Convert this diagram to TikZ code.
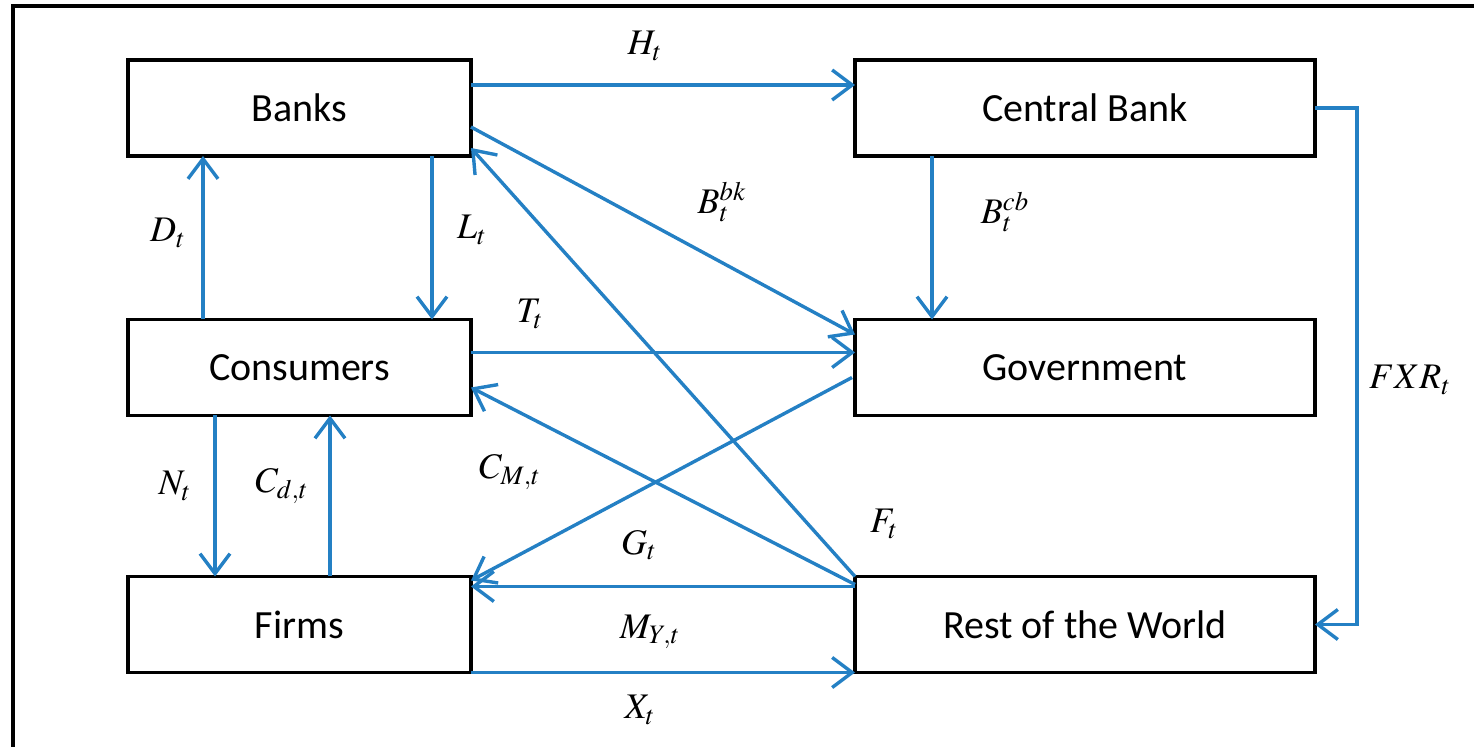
\documentclass[tikz,border=0pt]{standalone}
\usepackage{mathptmx}
\usepackage[no-math]{fontspec}
\setmainfont{Carlito}
\usetikzlibrary{arrows.meta,calc}
\definecolor{flowblue}{RGB}{36,128,196}

\begin{document}
\begin{tikzpicture}[x=0.5pt,y=-0.5pt,
  sector/.style={draw,line width=1.6pt,outer sep=0pt,inner sep=0pt,minimum width=171.5pt,minimum height=48pt,font=\fontsize{20}{24}\selectfont},
  widesector/.style={sector,minimum width=230pt},
  flow/.style={flowblue,line width=1.7pt,-{Straight Barb[length=10pt,width=15pt,line width=1.7pt]}},
  lab/.style={inner sep=0pt,font=\fontsize{18}{21}\selectfont}]
\useasboundingbox (0,0) rectangle (1474,747);

% frame
\draw[line width=1.6pt] (13,747) -- (13,6) -- (1474,6);

% ============ sectors ============
\node[sector] (banks) at (299.5,108) {Banks};
\node[widesector] (cbank) at (1085,108) {Central Bank};
\node[sector] (cons) at (299.5,367.5) {Consumers};
\node[widesector] (gov) at (1085,367.5) {Government};
\node[sector] (firms) at (299.5,624.5) {Firms};
\node[widesector] (row) at (1085,624.5) {Rest of the World};

% ============ flows ============
\draw[flow] ($(banks.north east)+(0,25)$) -- ($(cbank.north west)+(0,25)$);
\draw[flow] (cbank.east) -- ++(42,0) |- (row.east);
\draw[flow] ($(cbank.south west)+(77,0)$) -- ($(gov.north west)+(77,0)$);
\draw[flow] ($(banks.north east)+(0,67)$) -- ($(gov.north west)+(0,15)$);
\draw[flow] ($(banks.south east)+(-39,0)$) -- ($(cons.north east)+(-39,0)$);
\draw[flow] ($(cons.north west)+(75,0)$) -- ($(banks.south west)+(75,0)$);
\draw[flow] ($(cons.north east)+(0,33)$) -- ($(gov.north west)+(0,33)$);
\draw[flow] (row.north west) -- ($(banks.south east)+(0,-8)$);
\draw[flow] ($(row.north west)+(0,8)$) -- ($(cons.north east)+(0,68)$);
\draw[flow] ($(gov.north west)+(-3,58)$) -- ($(firms.north east)+(0,4)$);
\draw[flow] ($(row.north west)+(0,10)$) -- ($(firms.north east)+(0,10)$);
\draw[flow] (firms.south east) -- (row.south west);
\draw[flow] ($(cons.south west)+(87,0)$) -- ($(firms.north west)+(87,0)$);
\draw[flow] ($(firms.north west)+(202,0)$) -- ($(cons.south west)+(202,0)$);

% ============ labels ============
\node[lab] (lH) at (645,46) {$H_t$};
\node[lab] (lFXR) at (1410,380) {$FXR_t$};
\node[lab] (lBcb) at (1005,212) {$B_t^{cb}$};
\node[lab] (lBbk) at (722,202) {$B_t^{bk}$};
\node[lab] (lL) at (472,230) {$L_t$};
\node[lab] (lD) at (168,233) {$D_t$};
\node[lab] (lT) at (530,314) {$T_t$};
\node[lab] (lCM) at (510,472) {$C_{M,t}$};
\node[lab] (lG) at (639,545) {$G_t$};
\node[lab] (lF) at (884,524) {$F_t$};
\node[lab] (lM) at (650,632) {$M_{Y,t}$};
\node[lab] (lX) at (640,710) {$X_t$};
\node[lab] (lN) at (175,486) {$N_t$};
\node[lab] (lCd) at (282,486) {$C_{d,t}$};
\end{tikzpicture}
\end{document}
